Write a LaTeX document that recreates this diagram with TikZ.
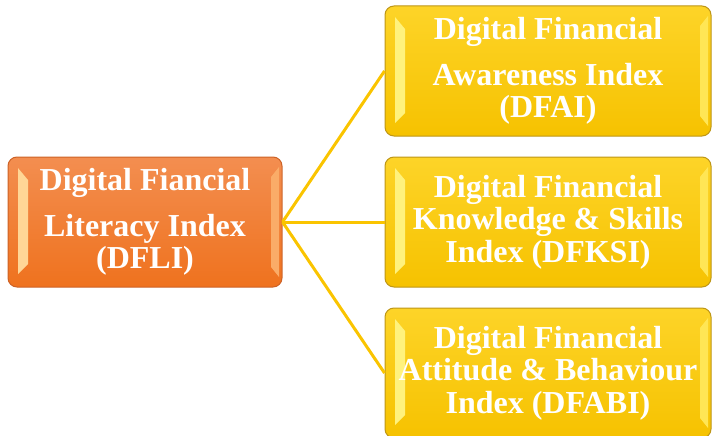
\documentclass[tikz,border=0pt]{standalone}
\usepackage{fontspec}
\setmainfont{Liberation Serif}
\usepackage{xcolor}
\usepackage{tikz}
\usetikzlibrary{positioning}
\definecolor{orangeTop}{RGB}{243,142,80}
\definecolor{orangeBot}{RGB}{239,114,30}
\definecolor{orangeEdge}{RGB}{205,98,38}
\definecolor{orangeLite}{RGB}{255,214,150}
\definecolor{orangeSide}{RGB}{250,172,104}
\definecolor{goldTop}{RGB}{253,212,40}
\definecolor{goldBot}{RGB}{246,194,0}
\definecolor{goldEdge}{RGB}{190,150,22}
\definecolor{goldLite}{RGB}{255,242,125}
\definecolor{goldSide}{RGB}{255,230,85}
\definecolor{linkGold}{RGB}{250,196,0}
\tikzset{
  tile/.style={rounded corners=9pt, line width=1pt, minimum height=130pt, inner sep=0pt,
    align=center, text=white, font=\bfseries\fontsize{32}{32.5}\selectfont},
  % light side strips of the bevelled face
  bevel/.style 2 args={path picture={
    \fill[#1, sharp corners] ([xshift=10pt,yshift=-11pt]path picture bounding box.north west)
      -- ([xshift=20pt,yshift=-23pt]path picture bounding box.north west)
      -- ([xshift=20pt,yshift=23pt]path picture bounding box.south west)
      -- ([xshift=10pt,yshift=13pt]path picture bounding box.south west) -- cycle;
    \fill[#2, sharp corners] ([xshift=-3pt,yshift=-10pt]path picture bounding box.north east)
      -- ([xshift=-11pt,yshift=-20pt]path picture bounding box.north east)
      -- ([xshift=-11pt,yshift=20pt]path picture bounding box.south east)
      -- ([xshift=-3pt,yshift=10pt]path picture bounding box.south east) -- cycle;
  }},
  rootbox/.style={tile, minimum width=274pt, draw=orangeEdge, top color=orangeTop,
    bottom color=orangeBot, bevel={orangeLite}{orangeSide}},
  subbox/.style={tile, minimum width=326pt, draw=goldEdge, top color=goldTop,
    bottom color=goldBot, bevel={goldLite}{goldSide}},
  link/.style={draw=linkGold, line width=3pt},
}
\begin{document}
\begin{tikzpicture}[x=1pt, y=-1pt, node distance=20pt and 102pt]
\useasboundingbox (0,0) rectangle (712,436);
\clip (0,0) rectangle (712,436);
\node[rootbox] (dfli) at (145,222) {Digital Fiancial\\[13pt]Literacy Index\\(DFLI)};
\node[subbox, right=of dfli] (dfksi) {Digital Financial\\Knowledge \& Skills\\Index (DFKSI)};
\node[subbox, above=of dfksi] (dfai) {Digital Financial\\[13pt]Awareness Index\\(DFAI)};
\node[subbox, below=of dfksi] (dfabi) {Digital Financial\\Attitude \& Behaviour\\Index (DFABI)};
\draw[link] (dfli.east) -- (dfai.west);
\draw[link] (dfli.east) -- (dfksi.west);
\draw[link] (dfli.east) -- (dfabi.west);
\end{tikzpicture}
\end{document}
